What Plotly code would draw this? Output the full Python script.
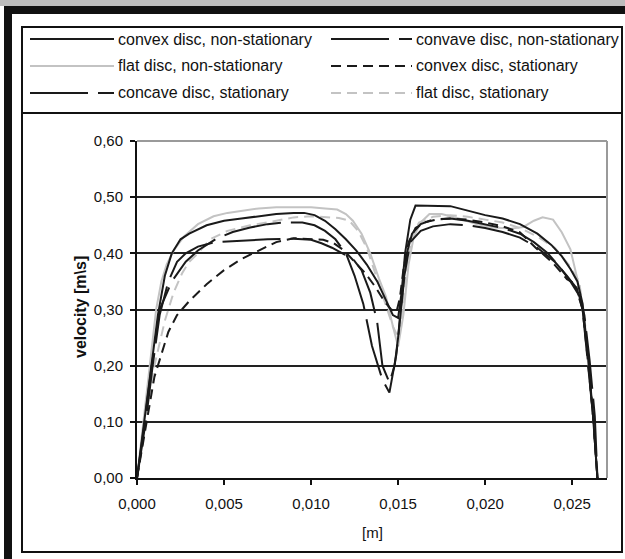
import plotly.graph_objects as go

# ---------------- data ----------------
series_names = [
    "convex disc, non-stationary",
    "convave disc, non-stationary",
    "flat disc, non-stationary",
    "convex disc, stationary",
    "concave disc, stationary",
    "flat disc, stationary",
]

x_convex_ns = [0, 0.0004, 0.0008, 0.0012, 0.0016, 0.0020, 0.0025, 0.0030, 0.0040, 0.0050, 0.0060, 0.0070, 0.0080, 0.0090, 0.0096, 0.0102, 0.0108, 0.0114, 0.0120, 0.0126, 0.0132, 0.0138, 0.0143, 0.0147, 0.0150, 0.0152, 0.0154, 0.0157, 0.0160, 0.0170, 0.0180, 0.0190, 0.0200, 0.0210, 0.0220, 0.0230, 0.0238, 0.0244, 0.0249, 0.0253, 0.0256, 0.0259, 0.0262, 0.02645]
v_convex_ns = [0, 0.10, 0.20, 0.29, 0.36, 0.40, 0.425, 0.435, 0.450, 0.458, 0.462, 0.466, 0.470, 0.472, 0.472, 0.468, 0.458, 0.443, 0.425, 0.405, 0.38, 0.35, 0.315, 0.29, 0.285, 0.33, 0.40, 0.46, 0.485, 0.485, 0.484, 0.476, 0.468, 0.462, 0.452, 0.435, 0.415, 0.395, 0.372, 0.35, 0.31, 0.22, 0.11, 0]

x_concave_ns = [0, 0.0004, 0.0008, 0.0013, 0.0020, 0.0028, 0.0035, 0.0045, 0.0055, 0.0065, 0.0075, 0.0085, 0.0095, 0.0102, 0.0108, 0.0114, 0.0120, 0.0125, 0.0130, 0.0135, 0.0141, 0.0145, 0.0149, 0.0152, 0.0155, 0.0158, 0.0163, 0.0170, 0.0180, 0.0190, 0.0200, 0.0210, 0.0220, 0.0228, 0.0236, 0.0243, 0.0249, 0.0254, 0.0257, 0.0260, 0.0263, 0.02645]
v_concave_ns = [0, 0.09, 0.19, 0.30, 0.35, 0.385, 0.405, 0.425, 0.438, 0.446, 0.452, 0.455, 0.455, 0.450, 0.44, 0.425, 0.40, 0.36, 0.31, 0.235, 0.175, 0.152, 0.22, 0.31, 0.40, 0.435, 0.452, 0.46, 0.462, 0.458, 0.452, 0.445, 0.435, 0.42, 0.40, 0.375, 0.35, 0.325, 0.29, 0.21, 0.11, 0]

x_flat_ns = [0, 0.0004, 0.0008, 0.0011, 0.0014, 0.0017, 0.0021, 0.0027, 0.0035, 0.0044, 0.0052, 0.0060, 0.0070, 0.0080, 0.0090, 0.0100, 0.0108, 0.0115, 0.0120, 0.0124, 0.0129, 0.0134, 0.0139, 0.0143, 0.0147, 0.0150, 0.0153, 0.0156, 0.0159, 0.0163, 0.0168, 0.0175, 0.0185, 0.0195, 0.0205, 0.0215, 0.0222, 0.0228, 0.0233, 0.0239, 0.0244, 0.0249, 0.0253, 0.0256, 0.0259, 0.0262, 0.02645]
v_flat_ns = [0, 0.11, 0.22, 0.30, 0.35, 0.38, 0.405, 0.43, 0.452, 0.466, 0.472, 0.476, 0.48, 0.482, 0.482, 0.482, 0.48, 0.478, 0.47, 0.458, 0.435, 0.40, 0.355, 0.323, 0.27, 0.234, 0.29, 0.38, 0.43, 0.455, 0.47, 0.47, 0.462, 0.452, 0.446, 0.444, 0.447, 0.458, 0.464, 0.46, 0.4375, 0.407, 0.354, 0.30, 0.21, 0.11, 0]

x_convex_st = [0, 0.0005, 0.0010, 0.0014, 0.0018, 0.0023, 0.0030, 0.0040, 0.0050, 0.0060, 0.0070, 0.0080, 0.0090, 0.0100, 0.0107, 0.0113, 0.0119, 0.0125, 0.0131, 0.0137, 0.0142, 0.0146, 0.0149, 0.0151, 0.0153, 0.0156, 0.0160, 0.0165, 0.0172, 0.0180, 0.0190, 0.0200, 0.0210, 0.0220, 0.0229, 0.0239, 0.0247, 0.0252, 0.0256, 0.0259, 0.0262, 0.02645]
v_convex_st = [0, 0.09, 0.18, 0.22, 0.26, 0.29, 0.315, 0.345, 0.37, 0.39, 0.405, 0.42, 0.427, 0.426, 0.424, 0.418, 0.405, 0.385, 0.365, 0.34, 0.315, 0.30, 0.295, 0.32, 0.37, 0.42, 0.445, 0.455, 0.46, 0.462, 0.46, 0.455, 0.448, 0.4375, 0.41, 0.383, 0.354, 0.345, 0.30, 0.21, 0.11, 0]

x_concave_st = [0, 0.0005, 0.0009, 0.0013, 0.0018, 0.0023, 0.0028, 0.0035, 0.0045, 0.0060, 0.0075, 0.0090, 0.0100, 0.0106, 0.0112, 0.0118, 0.0124, 0.0129, 0.0134, 0.0138, 0.0141, 0.0145, 0.0148, 0.0150, 0.0153, 0.0157, 0.0163, 0.0170, 0.0180, 0.0190, 0.0200, 0.0210, 0.0220, 0.0230, 0.0240, 0.0247, 0.0252, 0.0256, 0.0259, 0.0262, 0.02645]
v_concave_st = [0, 0.10, 0.20, 0.29, 0.35, 0.385, 0.40, 0.412, 0.42, 0.423, 0.425, 0.426, 0.424, 0.418, 0.41, 0.40, 0.39, 0.37, 0.33, 0.277, 0.20, 0.17, 0.20, 0.25, 0.35, 0.42, 0.44, 0.448, 0.452, 0.45, 0.445, 0.438, 0.428, 0.41, 0.385, 0.36, 0.34, 0.30, 0.21, 0.11, 0]

x_flat_st = [0, 0.0005, 0.0010, 0.0016, 0.0021, 0.0026, 0.0030, 0.0035, 0.0042, 0.0052, 0.0065, 0.0080, 0.0090, 0.0100, 0.0108, 0.0116, 0.0122, 0.0127, 0.0132, 0.0138, 0.0143, 0.0147, 0.0150, 0.0152, 0.0155, 0.0158, 0.0162, 0.0170, 0.0180, 0.0190, 0.0200, 0.0210, 0.0220, 0.0230, 0.0240, 0.0248, 0.0254, 0.0258, 0.0261, 0.02645]
v_flat_st = [0, 0.10, 0.20, 0.28, 0.33, 0.365, 0.385, 0.40, 0.425, 0.44, 0.45, 0.458, 0.464, 0.466, 0.465, 0.463, 0.458, 0.44, 0.41, 0.355, 0.31, 0.27, 0.25, 0.29, 0.38, 0.43, 0.455, 0.465, 0.468, 0.465, 0.46, 0.455, 0.445, 0.43, 0.41, 0.38, 0.35, 0.26, 0.15, 0]

x_tick_vals = [0, 0.005, 0.010, 0.015, 0.020, 0.025]
y_tick_vals = [0, 0.1, 0.2, 0.3, 0.4, 0.5, 0.6]
x_title = "[m]"
y_title = "velocity [m\\s]"

# ---------------- styling ----------------
BLACK = "#1a1a1a"
GRAY = "#c3c3c3"
LONG = "58px,10px"
SHORT = "10px,6px"
styles = [
    dict(color=BLACK, dash="solid"),
    dict(color=BLACK, dash=LONG),
    dict(color=GRAY, dash="solid"),
    dict(color=BLACK, dash=SHORT),
    dict(color=BLACK, dash=LONG),
    dict(color=GRAY, dash=SHORT),
]
xs = [x_convex_ns, x_concave_ns, x_flat_ns, x_convex_st, x_concave_st, x_flat_st]
vs = [v_convex_ns, v_concave_ns, v_flat_ns, v_convex_st, v_concave_st, v_flat_st]

FONT = "Liberation Sans, Arial, sans-serif"
W, H = 625, 559
L, R, T, B = 137, 607, 141, 478


def px(xp):
    return (xp - L) / (R - L)


def py(yp):
    return (B - yp) / (B - T)


fig = go.Figure()
draw_order = [2, 5, 3, 4, 1, 0]
for i in draw_order:
    fig.add_trace(go.Scatter(
        x=xs[i], y=vs[i], mode="lines", name=series_names[i],
        line=dict(color=styles[i]["color"], dash=styles[i]["dash"], width=2),
        showlegend=False, hoverinfo="skip"))

shapes = []
annotations = []

# outer decorations
shapes.append(dict(type="rect", xref="paper", yref="paper", x0=px(0), x1=px(W), y0=py(0), y1=py(6),
                   fillcolor="#bdbdbd", line=dict(width=0), layer="below"))
shapes.append(dict(type="rect", xref="paper", yref="paper", x0=px(4), x1=px(W), y0=py(6), y1=py(14),
                   fillcolor="#111111", line=dict(width=0), layer="below"))
shapes.append(dict(type="rect", xref="paper", yref="paper", x0=px(4), x1=px(12), y0=py(6), y1=py(H),
                   fillcolor="#111111", line=dict(width=0), layer="below"))
# inner frame
shapes.append(dict(type="rect", xref="paper", yref="paper", x0=px(22), x1=px(622), y0=py(27), y1=py(552),
                   line=dict(color="#111111", width=2), layer="below"))
shapes.append(dict(type="line", xref="paper", yref="paper", x0=px(22), x1=px(622), y0=py(113), y1=py(113),
                   line=dict(color="#111111", width=2), layer="below"))
# plot area top/right border (gray)
shapes.append(dict(type="line", xref="paper", yref="paper", x0=0, x1=1, y0=1, y1=1,
                   line=dict(color="#9a9a9a", width=2), layer="above"))
shapes.append(dict(type="line", xref="paper", yref="paper", x0=1, x1=1, y0=0, y1=1,
                   line=dict(color="#9a9a9a", width=2), layer="above"))

# legend (two columns, three rows)
legend_order = [0, 1, 2, 3, 4, 5]
row_y = [39, 66, 93]
col_line = [(30, 114), (331, 412)]
col_text = [116, 414]
for k, i in enumerate(legend_order):
    r, c = divmod(k, 2)
    yy = py(row_y[r])
    shapes.append(dict(type="line", xref="paper", yref="paper",
                       x0=px(col_line[c][0]), x1=px(col_line[c][1]), y0=yy, y1=yy,
                       line=dict(color=styles[i]["color"], dash=styles[i]["dash"], width=2)))
    annotations.append(dict(xref="paper", yref="paper", x=px(col_text[c]), y=yy, xanchor="left",
                            yanchor="middle", text=series_names[i], showarrow=False,
                            font=dict(family=FONT, size=16, color="#111111")))

annotations.append(dict(xref="paper", yref="paper", x=0.5, y=py(532), text=x_title, showarrow=False,
                        xanchor="center", yanchor="middle", font=dict(family=FONT, size=15, color="#111111")))
annotations.append(dict(xref="paper", yref="paper", x=px(80), y=py(307), text="<b>" + y_title + "</b>",
                        showarrow=False, textangle=-90, xanchor="center", yanchor="middle",
                        font=dict(family=FONT, size=16, color="#111111")))

fig.update_layout(
    width=W, height=H, autosize=False,
    margin=dict(l=L, r=W - R, t=T, b=H - B, pad=0),
    paper_bgcolor="white", plot_bgcolor="white",
    separators=", ",
    font=dict(family=FONT, size=15, color="#111111"),
    shapes=shapes, annotations=annotations,
    showlegend=False,
)
fig.update_xaxes(range=[0, 0.027], tickvals=x_tick_vals, tickformat=".3f",
                 showgrid=False, zeroline=False, showline=True, linecolor="#111111", linewidth=2,
                 ticks="outside", ticklen=5, tickwidth=2, tickcolor="#111111",
                 ticklabelstandoff=6, tickfont=dict(size=15))
fig.update_yaxes(range=[0, 0.6], tickvals=y_tick_vals, tickformat=".2f",
                 showgrid=True, gridcolor="#222222", gridwidth=1.5, zeroline=False,
                 showline=True, linecolor="#111111", linewidth=2,
                 ticks="outside", ticklen=5, tickwidth=2, tickcolor="#111111",
                 ticklabelstandoff=4, tickfont=dict(size=15))

fig.write_html("out.html")
